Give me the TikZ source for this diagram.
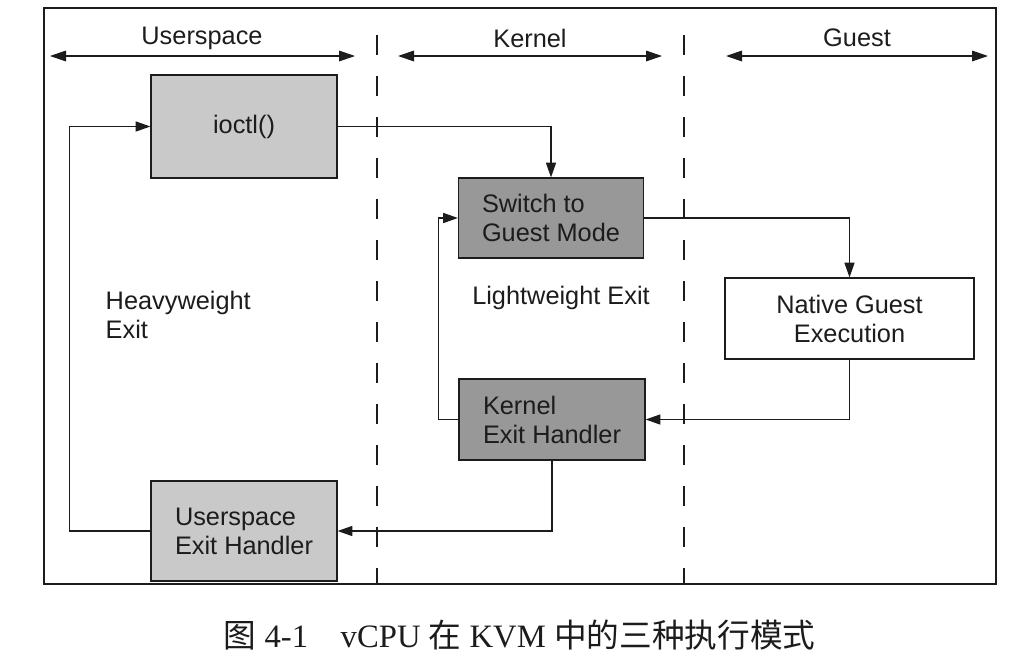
\documentclass[tikz,border=0pt]{standalone}
\usepackage{fontspec}
\setmainfont{Liberation Sans}
\newfontfamily\capfont{Liberation Serif}
\newfontfamily\cjk{Noto Sans CJK SC}
\usepackage{tikz}
\usetikzlibrary{arrows.meta}
\usetikzlibrary{positioning}
\usetikzlibrary{calc}

\definecolor{boxlight}{RGB}{201,201,201}
\definecolor{boxdark}{RGB}{152,152,152}
\definecolor{inkgray}{RGB}{28,28,28}

\begin{document}
\begin{tikzpicture}[x=0.75pt,y=0.75pt,yscale=-1,xscale=1,
    every node/.style={text=inkgray, font=\fontsize{19}{21.75}\selectfont},
    box/.style={draw=inkgray, line width=0.9pt, inner sep=0pt, align=left},
    flow/.style={draw=inkgray, line width=0.9pt, -{Triangle[length=11pt,width=7.5pt]}},
    span/.style={draw=inkgray, line width=0.9pt, {Triangle[length=12pt,width=8pt]}-{Triangle[length=12pt,width=8pt]}},
    divider/.style={draw=inkgray, line width=1pt, dash pattern={on 15pt off 15.75pt}}]

\useasboundingbox (0,0) rectangle (1028,661);

\coordinate (u1) at (50,56);
\coordinate (u2) at (355,56);
\coordinate (k1) at (398,56);
\coordinate (k2) at (662,56);
\coordinate (g1) at (726,56);
\coordinate (g2) at (988,56);
\coordinate (d1) at (377,35);
\coordinate (d2) at (377,584);
\coordinate (d3) at (684,35);
\coordinate (d4) at (684,584);

% Frame
\draw [inkgray, line width=1.3pt] (44,8) rectangle (996,584) ;

% Dividers
\draw [divider] (d1) -- (d2) ;
\draw [divider] (d3) -- (d4) ;

% Region Labels
\node (userlbl)   at (202,38) {Userspace};
\node (kernlbl)   at (530,38) {Kernel};
\node (guestlbl)  at (857,38) {Guest};
\draw [span] (u1) -- (u2) ;
\draw [span] (k1) -- (k2) ;
\draw [span] (g1) -- (g2) ;

% Boxes
\node (ioctl)    [box, fill=boxlight, minimum width=139.5pt, minimum height=77.25pt] at (244,126.5) {ioctl()};
\node (switch)   [box, fill=boxdark,  minimum width=138.75pt, minimum height=60pt]   at (551,218)   {Switch to\\Guest Mode};
\node (native)   [box, fill=white, align=center, minimum width=186.75pt, minimum height=60.75pt] at (849.5,318.5) {Native Guest\\Execution};
\node (kernexit) [box, fill=boxdark,  minimum width=139.5pt, minimum height=60.75pt] at (552,419.5) {Kernel\\Exit Handler};
\node (userexit) [box, fill=boxlight, minimum width=139.5pt, minimum height=75pt]    at (244,531)   {Userspace\\Exit Handler};

% Free Labels
\node (heavy) [anchor=west, align=left] at (101,315) {Heavyweight\\Exit};
\node (light) at (561,298) {Lightweight Exit};

% Flow Arrows
\draw [flow] (ioctl.east) -| (switch.north) ;
\draw [flow] (switch.east) -| (native.north) ;
\draw [flow] (native.south) |- (kernexit.east) ;
\draw [flow] (kernexit.west) -- ++(-20,0) |- (switch.west) ;
\draw [flow] (kernexit.south) |- (userexit.east) ;
\draw [flow] (userexit.west) -- ++(-81,0) |- (ioctl.west) ;

% Caption
\node (caption) [anchor=west, font=\fontsize{24.5}{29}\capfont] at (219,635)
  {{\cjk 图} 4-1\quad vCPU {\cjk 在} KVM {\cjk 中的三种执行模式}};

\end{tikzpicture}
\end{document}
